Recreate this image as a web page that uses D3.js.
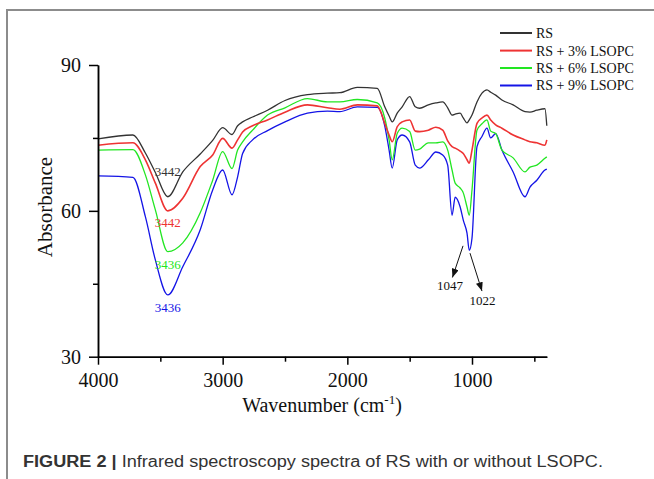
<!DOCTYPE html>
<html><head><meta charset="utf-8">
<script src="https://cdn.jsdelivr.net/npm/d3@7"></script>
<style>body{margin:0;background:#fff;} svg{display:block}</style>
</head><body><svg id="c" width="654" height="479"></svg>
<script>
// Wavenumber grid (cm-1)
const wavenumbers = [4000,3720,3620,3540,3440,3320,3180,3080,3000,2925,2880,2840,2760,2640,2500,2320,2160,2060,1920,1760,1700,1665,1640,1600,1560,1500,1455,1420,1350,1290,1235,1195,1160,1135,1095,1070,1040,1022,1000,960,920,880,850,810,760,670,575,535,480,415,400];
// Absorbance values per series
const rs  = [74.8,75.6,71.9,67.9,62.9,68.0,71.7,74.5,77.1,75.7,77.5,78.3,79.3,80.7,82.7,83.9,84.2,84.3,85.4,85.2,81.4,79.5,78.3,80.1,81.4,83.5,81.4,81.1,81.8,82.2,82.4,81.2,79.7,79.9,80.1,79.1,78.1,78.7,79.7,82.4,84.2,84.9,84.4,83.8,82.8,81.8,80.4,80.3,80.7,81.0,77.5];
const rs3 = [73.5,74.0,70.5,65.7,60.0,62.6,69.1,71.5,74.9,72.9,74.6,76.2,77.5,78.7,80.3,81.8,81.2,80.9,81.8,81.6,78.0,75.6,74.2,77.3,78.3,78.7,76.4,76.3,76.6,77.2,76.6,74.4,73.2,72.9,72.3,71.8,70.5,69.8,72.5,78.0,79.1,79.7,78.7,77.7,77.0,75.6,74.6,74.2,74.0,73.5,74.6];
const rs6 = [72.5,72.6,67.4,60.2,51.6,53.4,59.6,66.3,72.2,68.7,72.5,74.2,76.6,79.7,81.2,83.1,82.4,82.4,82.9,82.2,79.1,74.6,70.5,75.9,77.0,76.3,72.5,72.7,74.0,74.0,74.2,72.5,68.4,65.7,64.7,63.7,60.8,59.1,64.3,76.6,77.9,78.7,76.4,75.9,72.5,70.9,68.0,69.0,69.4,70.8,71.1];
const rs9 = [67.2,66.9,58.8,49.9,42.7,48.5,56.1,64.3,68.4,63.3,67.0,71.8,74.6,76.5,78.3,80.1,80.5,80.4,81.4,81.3,77.5,72.5,68.8,74.6,75.6,74.2,69.4,68.8,70.5,72.1,71.5,69.4,59.1,62.8,60.8,58.1,55.4,51.9,54.4,73.2,75.3,77.0,75.0,75.9,72.5,68.0,62.9,64.9,66.3,68.4,68.6];
const seriesNames = ["RS","RS + 3% LSOPC","RS + 6% LSOPC","RS + 9% LSOPC"];
const seriesColors = ["#333333","#ee3333","#22e622","#1414e6"];
const xTicks = [4000,3000,2000,1000];
const xMinorTicks = [3500,2500,1500,500];
const yTicks = [30,60,90];
const yMinorTicks = [45,75];
// peak labels: text, wavenumber, absorbance (label anchor), series index
const peakText = ["3442","3442","3436","3436"];
const peakWave = [3440,3440,3440,3440];
const peakAbs  = [67.1,56.7,48.0,39.2];
// arrow annotations (wavenumber/absorbance of start and end) and labels
const arrowFrom = [[1072,52.8],[1016,51.3]];
const arrowTo   = [[1157,46.3],[920,43.5]];
const arrowText = ["1047","1022"];
const arrowTextPos = [[1177,43.8],[915,40.7]];

const svg = d3.select("#c");
const serif = "'Liberation Serif','Times New Roman',serif";
const x = d3.scaleLinear().domain([4000,400]).range([98,546.8]);
const y = d3.scaleLinear().domain([30,90]).range([356.7,65]);

// frame
svg.append("path").attr("d","M7,479V10H654").attr("fill","none").attr("stroke","#8c8c8c").attr("stroke-width",2);

// series
const allSeries = [rs, rs3, rs6, rs9];
const line = d3.line().x((d,i)=>x(wavenumbers[i])).y(d=>y(d)).curve(d3.curveMonotoneX);
[3,2,1,0].forEach(k=>{
  svg.append("path").attr("d",line(allSeries[k])).attr("fill","none")
    .attr("stroke",seriesColors[k]).attr("stroke-width",k===1?1.6:1.3).attr("stroke-linejoin","round");
});

// axes
const gx = svg.append("g").attr("transform","translate(0,356.7)")
  .call(d3.axisBottom(x).tickValues(xTicks).tickSize(8).tickSizeOuter(0).tickPadding(8).tickFormat(d3.format("d")));
const gxm = svg.append("g").attr("transform","translate(0,356.7)")
  .call(d3.axisBottom(x).tickValues(xMinorTicks).tickSize(5).tickSizeOuter(0).tickFormat(""));
const gy = svg.append("g").attr("transform","translate(98,0)")
  .call(d3.axisLeft(y).tickValues(yTicks).tickSize(9).tickSizeOuter(0).tickPadding(8));
const gym = svg.append("g").attr("transform","translate(98,0)")
  .call(d3.axisLeft(y).tickValues(yMinorTicks).tickSize(5).tickSizeOuter(0).tickFormat(""));
[gx,gxm,gy,gym].forEach(g=>{
  g.selectAll("path,line").attr("stroke","#000").attr("stroke-width",1.5);
  g.selectAll("text").attr("font-family",serif).attr("font-size",20).attr("fill","#111");
});

// axis titles
svg.append("text").attr("x",322).attr("y",411.5).attr("text-anchor","middle")
  .attr("font-family",serif).attr("font-size",20).attr("fill","#111")
  .html('Wavenumber (cm<tspan dy="-8" font-size="13">-1</tspan><tspan dy="8">)</tspan>');
svg.append("text").attr("transform","translate(52,207) rotate(-90)").attr("text-anchor","middle")
  .attr("font-family",serif).attr("font-size",21).attr("fill","#111").text("Absorbance");

// legend
const legY = [33,50.6,68,85.5];
seriesNames.forEach((n,i)=>{
  svg.append("line").attr("x1",500).attr("x2",532).attr("y1",legY[i]).attr("y2",legY[i])
    .attr("stroke",seriesColors[i]).attr("stroke-width",2);
  svg.append("text").attr("x",536).attr("y",legY[i]).attr("dy","0.35em")
    .attr("font-family",serif).attr("font-size",14).attr("fill","#111").text(n);
});

// peak labels
peakText.forEach((t,i)=>{
  svg.append("text").attr("x",x(peakWave[i])).attr("y",y(peakAbs[i])).attr("text-anchor","middle")
    .attr("font-family",serif).attr("font-size",13).attr("fill",seriesColors[i]).text(t);
});

// arrows
const defs = svg.append("defs");
defs.append("marker").attr("id","arr").attr("viewBox","0 0 10 8").attr("refX",10).attr("refY",4)
  .attr("markerWidth",9).attr("markerHeight",7).attr("markerUnits","userSpaceOnUse").attr("orient","auto")
  .append("path").attr("d","M0,0L10,4L0,8z").attr("fill","#111");
arrowFrom.forEach((f,i)=>{
  svg.append("line").attr("x1",x(f[0])).attr("y1",y(f[1])).attr("x2",x(arrowTo[i][0])).attr("y2",y(arrowTo[i][1]))
    .attr("stroke","#111").attr("stroke-width",1).attr("marker-end","url(#arr)");
  svg.append("text").attr("x",x(arrowTextPos[i][0])).attr("y",y(arrowTextPos[i][1])).attr("text-anchor","middle")
    .attr("font-family",serif).attr("font-size",13).attr("fill","#111").text(arrowText[i]);
});

// caption
const cap = svg.append("text").attr("x",23).attr("y",467).attr("font-family","'Liberation Sans',Arial,sans-serif")
  .attr("font-size",16).attr("fill","#333").attr("textLength",580).attr("lengthAdjust","spacingAndGlyphs");
cap.append("tspan").attr("font-weight","bold").text("FIGURE 2 | ");
cap.append("tspan").text("Infrared spectroscopy spectra of RS with or without LSOPC.");
</script></body></html>
